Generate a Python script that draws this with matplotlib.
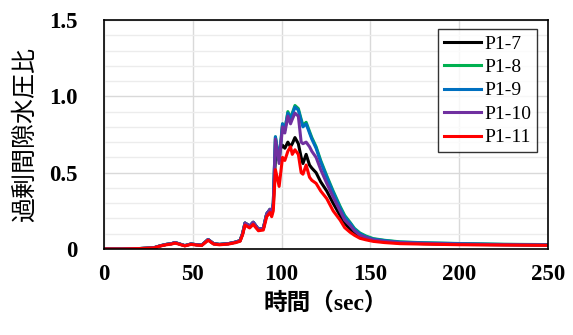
import matplotlib.pyplot as plt
from matplotlib.ticker import MultipleLocator

# time (sec)
t = [0, 10, 20, 28, 30, 32, 35, 38, 40, 42,
     45.5, 49, 52, 55, 58.6, 61.7, 65, 70, 74, 76.6,
     78, 79.4, 82, 84, 86.9, 89.7, 91.6, 93.5, 94.4, 95.3,
     96.5, 98.6, 100.5, 101.8, 103.5, 105, 106, 107.5, 109.4, 111,
     112, 113.8, 115.7, 117, 119.4, 122, 125.4, 129, 132.9, 135.5,
     138.5, 141, 144.1, 147.5, 151.6, 158, 166.6, 180, 200, 225,
     250]

# common build-up before the main rise
early = [0.0, 0.0, 0.003, 0.008, 0.015, 0.022, 0.03, 0.035, 0.042, 0.035,
         0.022, 0.033, 0.028, 0.025, 0.062, 0.035, 0.03, 0.035, 0.045, 0.055,
         0.1, 0.17, 0.15, 0.175, 0.13, 0.135, 0.23, 0.26, 0.23]

p1_7 = early + [0.28,
                0.60, 0.64, 0.68, 0.66, 0.70, 0.67, 0.69, 0.73, 0.69, 0.60,
                0.56, 0.62, 0.55, 0.53, 0.50, 0.44, 0.38, 0.30, 0.22, 0.17,
                0.13, 0.10, 0.08, 0.065, 0.055, 0.047, 0.04, 0.035, 0.03, 0.028,
                0.026]
p1_8 = early + [0.30,
                0.735, 0.58, 0.82, 0.78, 0.90, 0.86, 0.89, 0.94, 0.92, 0.85,
                0.81, 0.83, 0.77, 0.73, 0.67, 0.58, 0.48, 0.38, 0.28, 0.22,
                0.175, 0.135, 0.105, 0.085, 0.068, 0.057, 0.047, 0.041, 0.036, 0.031,
                0.029]
p1_9 = early + [0.30,
                0.735, 0.58, 0.82, 0.78, 0.89, 0.85, 0.88, 0.93, 0.91, 0.84,
                0.80, 0.82, 0.76, 0.72, 0.66, 0.57, 0.47, 0.37, 0.27, 0.21,
                0.17, 0.13, 0.10, 0.08, 0.065, 0.055, 0.045, 0.04, 0.035, 0.03,
                0.028]
p1_10 = early + [0.30,
                 0.72, 0.56, 0.80, 0.76, 0.87, 0.82, 0.85, 0.89, 0.87, 0.70,
                 0.69, 0.70, 0.67, 0.64, 0.60, 0.52, 0.43, 0.34, 0.25, 0.19,
                 0.155, 0.12, 0.09, 0.075, 0.06, 0.05, 0.042, 0.037, 0.032, 0.028,
                 0.026]
p1_11 = [v * 0.92 for v in early] + [0.25,
                 0.52, 0.41, 0.60, 0.58, 0.64, 0.67, 0.62, 0.65, 0.62, 0.50,
                 0.49, 0.55, 0.47, 0.45, 0.43, 0.38, 0.33, 0.25, 0.19, 0.14,
                 0.11, 0.09, 0.07, 0.06, 0.05, 0.042, 0.035, 0.032, 0.028, 0.026,
                 0.024]

series = [('P1-7', p1_7, '#000000'),
          ('P1-8', p1_8, '#00B050'),
          ('P1-9', p1_9, '#0070C0'),
          ('P1-10', p1_10, '#7030A0'),
          ('P1-11', p1_11, '#FF0000')]

serif = ['Liberation Serif', 'Noto Sans CJK JP']

fig = plt.figure(figsize=(5.73, 3.35), dpi=100)
ax = fig.add_axes([0.1815, 0.2567, 0.775, 0.6836])

for name, y, c in series:
    ax.plot(t, y, color=c, lw=2.2, label=name)

ax.set_xlim(0, 250)
ax.set_ylim(0, 1.5)
ax.xaxis.set_major_locator(MultipleLocator(50))
ax.yaxis.set_minor_locator(MultipleLocator(0.1))
ax.set_yticks([0, 0.5, 1.0, 1.5])
ax.set_yticklabels(['0', '0.5', '1.0', '1.5'])

ax.grid(True, which='major', color='#d9d9d9', lw=1.0)
ax.grid(True, which='minor', axis='y', color='#ececec', lw=1.0)
ax.set_axisbelow(True)

ax.tick_params(which='both', length=0)
ax.tick_params(axis='y', pad=19)
ax.tick_params(axis='x', pad=11)
for lab in ax.get_xticklabels() + ax.get_yticklabels():
    lab.set_family('Liberation Serif')
    lab.set_fontsize(16.5)
    lab.set_fontweight('bold')

for s in ax.spines.values():
    s.set_color('black')
    s.set_linewidth(1.2)

ax.set_xlabel('時間（sec）', family=serif, fontsize=17, fontweight='bold', labelpad=5)
ax.set_ylabel('過剰間隙水圧比', family=['Noto Sans CJK JP'], fontsize=18, labelpad=8)

leg = ax.legend(loc='upper right', bbox_to_anchor=(0.975, 0.96),
                prop={'family': 'Liberation Serif', 'size': 14},
                frameon=True, fancybox=False, edgecolor='black',
                handlelength=1.9, handletextpad=0.15, labelspacing=0.3,
                borderpad=0.3, borderaxespad=0)
leg.get_frame().set_linewidth(1.0)

fig.savefig('out.png', dpi=100)
